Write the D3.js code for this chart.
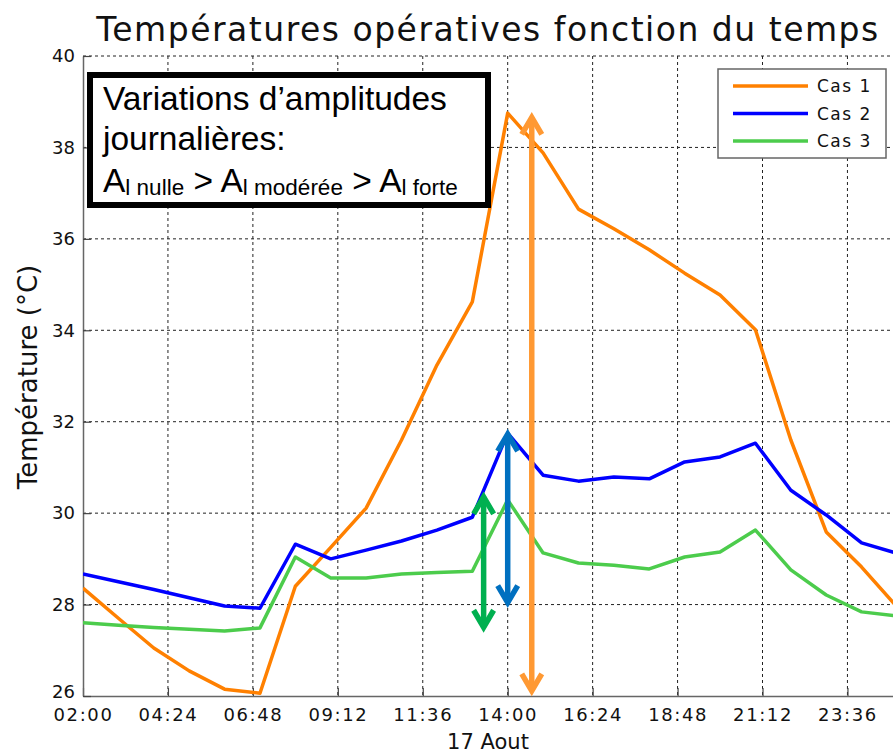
<!DOCTYPE html>
<html>
<head>
<meta charset="utf-8">
<script src="https://cdn.jsdelivr.net/npm/d3@7"></script>
<style>
  html, body { margin: 0; padding: 0; background: #fff; }
  svg { display: block; }
</style>
</head>
<body>
<svg id="chart" width="893" height="753"></svg>
<script>
// ---- data (hours of the day, 02:00 -> 01:00 next day) ----
const hours = [2,3,4,5,6,7,8,9,10,11,12,13,14,15,16,17,18,19,20,21,22,23,24,25];
const cas1 = [28.36,27.70,27.05,26.55,26.15,26.06,28.40,29.25,30.11,31.60,33.24,34.62,38.75,37.88,36.65,36.22,35.76,35.25,34.77,34.01,31.60,29.59,28.82,27.95];
const cas2 = [28.67,28.50,28.33,28.15,27.97,27.92,29.32,29.00,29.19,29.39,29.63,29.91,31.75,30.83,30.70,30.79,30.75,31.12,31.23,31.53,30.50,29.96,29.35,29.12];
const cas3 = [27.60,27.55,27.50,27.46,27.42,27.49,29.04,28.58,28.58,28.67,28.70,28.73,30.29,29.13,28.91,28.86,28.78,29.04,29.15,29.63,28.76,28.21,27.84,27.75];
const seriesNames = ["Cas 1","Cas 2","Cas 3"];
const seriesColors = ["#ff8000","#0000ff","#4ccc4c"];
const xTickValues = [2,4.4,6.8,9.2,11.6,14,16.4,18.8,21.2,23.6];
const xTickLabels = ["02:00","04:24","06:48","09:12","11:36","14:00","16:24","18:48","21:12","23:36"];
const yTickValues = [26,28,30,32,34,36,38,40];
// amplitude arrows (time in hours, temperatures in °C)
const arrowTimes = [13.32, 14.0, 14.68];
const arrowLow  = [27.46, 28.00, 26.07];
const arrowHigh = [30.40, 31.77, 38.70];
const arrowColors = ["#00b050","#0070c0","#ff9933"];

const svg = d3.select("#chart");
const W = 893, H = 753;
const x = d3.scaleLinear().domain([2, 25]).range([83, 897]);
const y = d3.scaleLinear().domain([26, 40]).range([696, 56]);

svg.append("defs").append("clipPath").attr("id","clip")
  .append("rect").attr("x", 83).attr("y", 50).attr("width", W - 83).attr("height", 700 - 50);

// grid
const grid = svg.append("g");
grid.selectAll("line.gx").data(xTickValues.slice(1)).join("line")
  .attr("x1", d => x(d)).attr("x2", d => x(d))
  .attr("y1", y(40)).attr("y2", y(26))
  .attr("stroke", "#222").attr("stroke-width", 1).attr("stroke-dasharray", "3,3");
grid.selectAll("line.gy").data(yTickValues.slice(1)).join("line")
  .attr("x1", x(2)).attr("x2", W)
  .attr("y1", d => y(d)).attr("y2", d => y(d))
  .attr("stroke", "#222").attr("stroke-width", 1).attr("stroke-dasharray", "3,3");

// axes
const xAxis = d3.axisBottom(x).tickValues(xTickValues)
  .tickFormat((d, i) => xTickLabels[i]).tickSizeInner(-8).tickSizeOuter(0).tickPadding(12);
const gx = svg.append("g").attr("transform", `translate(0,${y(26)})`).call(xAxis);
gx.select(".domain").attr("stroke", "#666").attr("stroke-width", 1.5);
gx.selectAll(".tick line").attr("stroke", "#444").attr("stroke-width", 1.2);
gx.selectAll(".tick text").attr("font-family", "DejaVu Sans").attr("font-size", 18)
  .attr("letter-spacing", "1.6px").attr("fill", "#111");

const yAxis = d3.axisLeft(y).tickValues(yTickValues).tickSizeInner(-8).tickSizeOuter(0).tickPadding(8);
const gy = svg.append("g").attr("transform", `translate(${x(2)},0)`).call(yAxis);
gy.select(".domain").attr("stroke", "#666").attr("stroke-width", 1.5);
gy.selectAll(".tick line").attr("stroke", "#444").attr("stroke-width", 1.2);
gy.selectAll(".tick text").attr("font-family", "DejaVu Sans").attr("font-size", 18).attr("fill", "#111");
gy.selectAll(".tick").filter(d => d === 26).select("text").attr("dy", "0.1em");

// lines
const allSeries = [cas1, cas2, cas3];
const line = d3.line().x((d, i) => x(hours[i])).y(d => y(d));
const lines = svg.append("g").attr("clip-path", "url(#clip)");
lines.selectAll("path").data(allSeries).join("path")
  .attr("d", d => line(d)).attr("fill", "none")
  .attr("stroke", (d, i) => seriesColors[i]).attr("stroke-width", 3.5)
  .attr("stroke-linejoin", "round");

// arrows
const ag = svg.append("g");
arrowTimes.forEach((t, i) => {
  const ax = x(t), y1 = y(arrowHigh[i]), y2 = y(arrowLow[i]);
  const c = arrowColors[i];
  const g = ag.append("g").attr("stroke", c).attr("fill", "none").attr("stroke-width", 5.5);
  g.append("line").attr("x1", ax).attr("x2", ax).attr("y1", y1 + 2).attr("y2", y2 - 2);
  g.append("path").attr("d", `M${ax-10},${y1+19} L${ax},${y1+2} L${ax+10},${y1+19}`).attr("stroke-linejoin","miter");
  g.append("path").attr("d", `M${ax-10},${y2-19} L${ax},${y2-2} L${ax+10},${y2-19}`).attr("stroke-linejoin","miter");
});

// title
svg.append("text").attr("x", 488).attr("y", 41).attr("text-anchor", "middle")
  .attr("font-family", "DejaVu Sans").attr("font-size", 33).attr("letter-spacing", "1.5px").attr("fill", "#111")
  .text("Températures opératives fonction du temps");

// axis labels
svg.append("text").attr("x", 488).attr("y", 749).attr("text-anchor", "middle")
  .attr("font-family", "DejaVu Sans").attr("font-size", 21).attr("fill", "#111")
  .text("17 Aout");
svg.append("text").attr("transform", "translate(37,377) rotate(-90)").attr("text-anchor", "middle")
  .attr("font-family", "DejaVu Sans").attr("font-size", 26).attr("fill", "#111")
  .text("Température (°C)");

// legend
const lg = svg.append("g");
lg.append("rect").attr("x", 718).attr("y", 69).attr("width", 168).attr("height", 89)
  .attr("fill", "#fff").attr("stroke", "#666").attr("stroke-width", 1.5);
seriesNames.forEach((n, i) => {
  const ly = 86 + i * 27.5;
  lg.append("line").attr("x1", 733).attr("x2", 808).attr("y1", ly).attr("y2", ly)
    .attr("stroke", seriesColors[i]).attr("stroke-width", 3.5);
  lg.append("text").attr("x", 817).attr("y", ly + 6).attr("font-family", "DejaVu Sans")
    .attr("font-size", 17).attr("letter-spacing", "1.5px").attr("fill", "#111").text(n);
});

// annotation box
const ab = svg.append("g");
ab.append("rect").attr("x", 90).attr("y", 75).attr("width", 398).attr("height", 130)
  .attr("fill", "#fff").attr("stroke", "#000").attr("stroke-width", 6);
const af = "Liberation Sans, Arial, sans-serif";
ab.append("text").attr("x", 103).attr("y", 110).attr("font-family", af).attr("font-size", 33.5)
  .attr("fill", "#000").text("Variations d’amplitudes");
ab.append("text").attr("x", 103).attr("y", 150).attr("font-family", af).attr("font-size", 33.5)
  .attr("fill", "#000").text("journalières:");
const t3 = ab.append("text").attr("x", 103).attr("y", 192).attr("font-family", af).attr("font-size", 33.5).attr("fill", "#000");
t3.append("tspan").text("A");
t3.append("tspan").attr("font-size", 22.5).attr("dy", 3).text("l nulle");
t3.append("tspan").attr("dy", -3).text(" > A");
t3.append("tspan").attr("font-size", 22.5).attr("dy", 3).text("l modérée");
t3.append("tspan").attr("dy", -3).text(" > A");
t3.append("tspan").attr("font-size", 22.5).attr("dy", 3).text("l forte");
</script>
</body>
</html>
